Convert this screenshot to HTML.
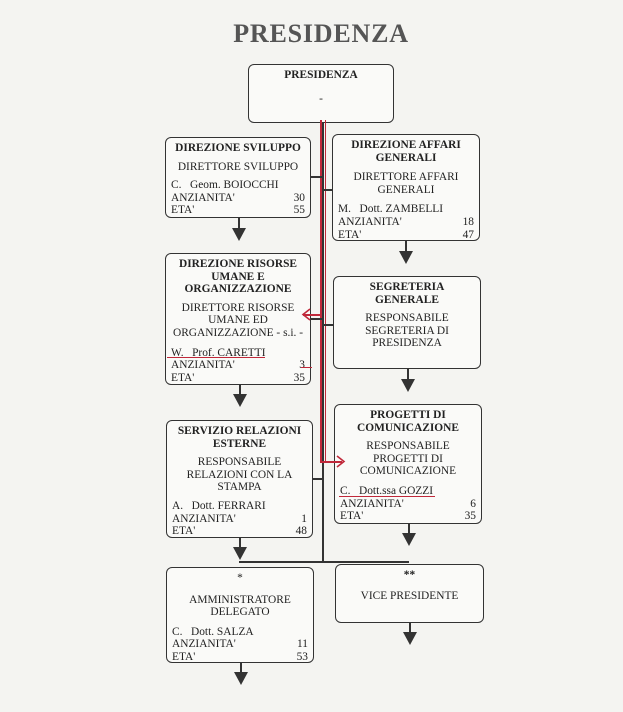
<!DOCTYPE html>
<html><head><meta charset="utf-8"><style>
body{margin:0;width:623px;height:712px;background:#f4f4f1;position:relative;overflow:hidden;font-family:"Liberation Serif",serif;color:#222}
.b{position:absolute;border:1.6px solid #333;border-radius:6px;background:#fafaf8;box-sizing:border-box;font-size:11.4px;line-height:12.6px;padding:4px 5px 0 5px}
.h{font-weight:bold;text-align:center}
.c{text-align:center;margin-top:5px}
.r{display:flex;justify-content:space-between}
.l{position:absolute;background:#333}
.red{position:absolute;background:#c0283a}
.tri{position:absolute;width:0;height:0;border-left:7px solid transparent;border-right:7px solid transparent;border-top:13px solid #333}
.t{position:absolute;left:228px;width:186px;text-align:center;top:19px;font-size:26px;font-weight:bold;color:#555;letter-spacing:.8px;white-space:nowrap}
</style></head><body>
<div class="t">PRESIDENZA</div>
<div class="b" style="left:248px;top:64px;width:146px;height:59px"><div class="h">PRESIDENZA</div><div class="c" style="margin-top:11px">-</div></div>

<div class="b" style="left:165px;top:137px;width:146px;height:81px"><div class="h">DIREZIONE SVILUPPO</div><div class="c" style="margin-top:6px">DIRETTORE SVILUPPO</div><div style="margin-top:6px">C.&nbsp;&nbsp; Geom. BOIOCCHI</div><div class="r"><span>ANZIANITA'</span><span>30</span></div><div class="r"><span>ETA'</span><span>55</span></div></div>

<div class="b" style="left:332px;top:134px;width:148px;height:107px"><div class="h">DIREZIONE AFFARI<br>GENERALI</div><div class="c" style="margin-top:7px">DIRETTORE AFFARI<br>GENERALI</div><div style="margin-top:7px">M.&nbsp;&nbsp; Dott. ZAMBELLI</div><div class="r"><span>ANZIANITA'</span><span>18</span></div><div class="r"><span>ETA'</span><span>47</span></div></div>

<div class="b" style="left:165px;top:253px;width:146px;height:132px"><div class="h">DIREZIONE RISORSE<br>UMANE E<br>ORGANIZZAZIONE</div><div class="c" style="margin-top:6px">DIRETTORE RISORSE<br>UMANE ED<br>ORGANIZZAZIONE - s.i. -</div><div style="margin-top:7px">W.&nbsp;&nbsp; Prof. CARETTI</div><div class="r"><span>ANZIANITA'</span><span>3</span></div><div class="r"><span>ETA'</span><span>35</span></div></div>

<div class="b" style="left:333px;top:276px;width:148px;height:93px"><div class="h">SEGRETERIA<br>GENERALE</div><div class="c" style="margin-top:6px">RESPONSABILE<br>SEGRETERIA DI<br>PRESIDENZA</div></div>

<div class="b" style="left:166px;top:420px;width:147px;height:118px"><div class="h">SERVIZIO RELAZIONI<br>ESTERNE</div><div class="c" style="margin-top:6px">RESPONSABILE<br>RELAZIONI CON LA<br>STAMPA</div><div style="margin-top:6px">A.&nbsp;&nbsp; Dott. FERRARI</div><div class="r"><span>ANZIANITA'</span><span>1</span></div><div class="r"><span>ETA'</span><span>48</span></div></div>

<div class="b" style="left:334px;top:404px;width:148px;height:120px"><div class="h">PROGETTI DI<br>COMUNICAZIONE</div><div class="c" style="margin-top:6px">RESPONSABILE<br>PROGETTI DI<br>COMUNICAZIONE</div><div style="margin-top:7px">C.&nbsp;&nbsp; Dott.ssa GOZZI</div><div class="r"><span>ANZIANITA'</span><span>6</span></div><div class="r"><span>ETA'</span><span>35</span></div></div>

<div class="b" style="left:166px;top:567px;width:148px;height:96px"><div class="h" style="font-weight:normal">*</div><div class="c" style="margin-top:9px">AMMINISTRATORE<br>DELEGATO</div><div style="margin-top:7px">C.&nbsp;&nbsp; Dott. SALZA</div><div class="r"><span>ANZIANITA'</span><span>11</span></div><div class="r"><span>ETA'</span><span>53</span></div></div>

<div class="b" style="left:335px;top:564px;width:149px;height:59px"><div class="h">**</div><div class="c" style="margin-top:8px">VICE PRESIDENTE</div></div>

<!-- connectors -->
<div class="l" style="left:322px;top:123px;width:2px;height:440px"></div>
<div class="red" style="left:320px;top:120px;width:1.5px;height:342px"></div>
<div class="red" style="left:324.5px;top:120px;width:1.5px;height:342px"></div>
<div class="l" style="left:311px;top:176px;width:12px;height:1.5px"></div>
<div class="l" style="left:323px;top:189px;width:10px;height:1.5px"></div>
<div class="l" style="left:311px;top:318px;width:12px;height:1.5px"></div>
<div class="l" style="left:323px;top:324px;width:10px;height:1.5px"></div>
<div class="l" style="left:313px;top:478px;width:10px;height:1.5px"></div>
<div class="red" style="left:320px;top:461px;width:22px;height:1.5px"></div>
<div class="red" style="left:303px;top:314px;width:18px;height:1.5px"></div>
<svg style="position:absolute;left:0;top:0" width="623" height="712"><g fill="none" stroke="#c0283a" stroke-width="1.6"><polyline points="337,456 344,461.5 337,467"/><polyline points="310,309 303,314.5 310,320"/></g></svg>
<div class="red" style="left:167px;top:357px;width:98px;height:1.3px"></div>
<div class="red" style="left:301px;top:367px;width:11px;height:1.3px"></div>
<div class="red" style="left:339px;top:496px;width:96px;height:1.3px"></div>
<div class="l" style="left:239px;top:561px;width:170px;height:1.5px"></div>

<!-- arrows -->
<div class="l" style="left:238px;top:218px;width:1.5px;height:10px"></div><div class="tri" style="left:232px;top:228px"></div>
<div class="l" style="left:239px;top:385px;width:1.5px;height:9px"></div><div class="tri" style="left:233px;top:394px"></div>
<div class="l" style="left:239px;top:538px;width:1.5px;height:9px"></div><div class="tri" style="left:233px;top:547px"></div>
<div class="l" style="left:240px;top:663px;width:1.5px;height:9px"></div><div class="tri" style="left:234px;top:672px"></div>
<div class="l" style="left:405px;top:241px;width:1.5px;height:10px"></div><div class="tri" style="left:399px;top:251px"></div>
<div class="l" style="left:407px;top:369px;width:1.5px;height:10px"></div><div class="tri" style="left:401px;top:379px"></div>
<div class="l" style="left:408px;top:524px;width:1.5px;height:9px"></div><div class="tri" style="left:402px;top:533px"></div>
<div class="l" style="left:409px;top:623px;width:1.5px;height:9px"></div><div class="tri" style="left:403px;top:632px"></div>
</body></html>
